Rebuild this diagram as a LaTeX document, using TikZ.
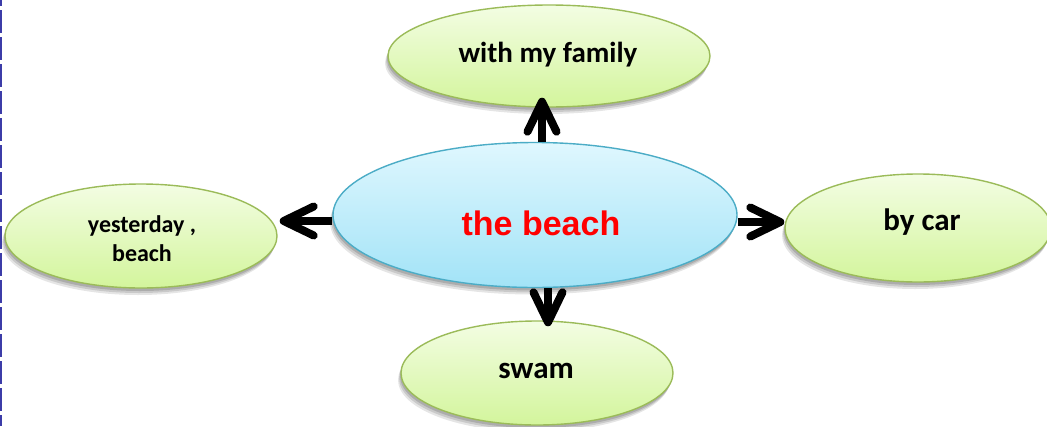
\documentclass[tikz,border=0pt]{standalone}
\usepackage{fontspec}
\setmainfont{Carlito}
\newfontfamily\arialfont{Liberation Sans}
\usetikzlibrary{shapes.geometric,shadows,arrows.meta}
\definecolor{greenfillA}{HTML}{F3FDE3}
\definecolor{greenfillB}{HTML}{D3F59C}
\definecolor{greenline}{HTML}{9BBB59}
\definecolor{bluefillA}{HTML}{DFF7FE}
\definecolor{bluefillB}{HTML}{A2E3F7}
\definecolor{blueline}{HTML}{4BACC6}
\definecolor{dashblue}{HTML}{3C3CA8}
\begin{document}
\begin{tikzpicture}[x=1pt,y=-1pt,
  softshadow/.style={
    drop shadow={shadow xshift=-3pt, shadow yshift=-7pt, opacity=0.10, fill=black},
    drop shadow={shadow xshift=-2pt, shadow yshift=-5pt, opacity=0.12, fill=black},
    drop shadow={shadow xshift=-1pt, shadow yshift=-3pt, opacity=0.14, fill=black}},
  bubble/.style={ellipse, draw=greenline, line width=1.4pt, top color=greenfillA, bottom color=greenfillB, inner sep=0pt, softshadow},
  hub/.style={ellipse, draw=blueline, line width=1.4pt, top color=bluefillA, bottom color=bluefillB, inner sep=0pt, softshadow},
  word/.style={font=\fontsize{29}{34}\selectfont\bfseries, text=black, inner sep=0pt},
  bigword/.style={font=\fontsize{31}{36}\selectfont\bfseries, text=black, inner sep=0pt},
  smallword/.style={font=\fontsize{24}{29}\selectfont\bfseries, text=black, inner sep=0pt, align=center},
  hubword/.style={font=\arialfont\fontsize{34}{40}\selectfont\bfseries, text=red, inner sep=0pt},
  arr/.style={line width=8pt, -{Straight Barb[length=30pt,width=29pt,round]}}
]
\useasboundingbox[fill=white] (0,0) rectangle (1047,426);
\draw[dashblue, line width=2.2pt, dash pattern=on 23pt off 4pt, dash phase=17pt] (1,0) -- (1,426);

\node[bubble, minimum width=322pt, minimum height=102pt] (top) at (549,56) {};
\node[hub, minimum width=404pt, minimum height=145pt] (c) at (535,215) {};
\node[bubble, minimum width=272pt, minimum height=104pt] (left) at (141,236) {};
\node[bubble, minimum width=266pt, minimum height=108pt] (right) at (918,228) {};
\node[bubble, minimum width=272pt, minimum height=104pt] (bot) at (537,373) {};

\node[word, anchor=base] (ttop) at (548,62) {with my family};
\node[hubword, anchor=base] (tc) at (541,235) {the beach};
\node[smallword] (tleft) at (142,239) {yesterday ,\\beach};
\node[bigword, anchor=base] (tright) at (922,230) {by car};
\node[bigword, anchor=base] (tbot) at (536,378) {swam};

\draw[arr] ([xshift=7pt]c.north) -- ([xshift=-7pt,yshift=10pt]top.south);
\draw[arr] ([xshift=13pt]c.south) -- ([xshift=11pt,yshift=-6pt]bot.north);
\draw[arr] ([yshift=-6pt]c.west) -- ([xshift=2pt,yshift=15pt]left.east);
\draw[arr] ([yshift=-7pt]c.east) -- ([yshift=6pt]right.west);
\end{tikzpicture}
\end{document}
